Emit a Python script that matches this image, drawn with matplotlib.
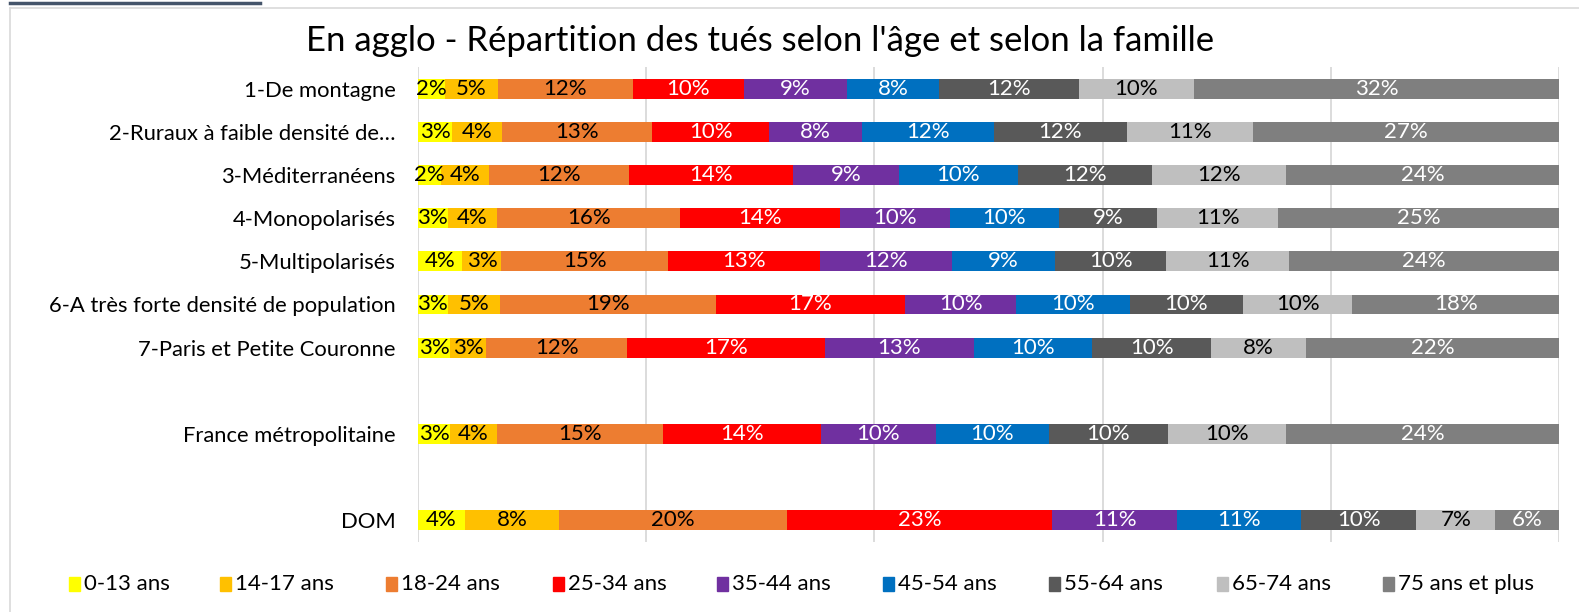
import matplotlib
matplotlib.use("Agg")
import matplotlib.pyplot as plt
from matplotlib.patches import Rectangle
from matplotlib.lines import Line2D

plt.rcParams['font.family'] = ['Lato', 'DejaVu Sans']

# Categories (families of territories)
categories = ["1-De montagne", "2-Ruraux à faible densité de…", "3-Méditerranéens",
              "4-Monopolarisés", "5-Multipolarisés", "6-A très forte densité de population",
              "7-Paris et Petite Couronne", "France métropolitaine", "DOM"]

# Share of road deaths by age group (%), one value per category
age_0_13 = [2.4, 3.0, 2.05, 2.6, 3.9, 2.6, 2.8, 2.8, 4.1]
age_14_17 = [4.6, 4.4, 4.2, 4.3, 3.4, 4.6, 3.2, 4.1, 8.3]
age_18_24 = [11.8, 13.1, 12.2, 16.1, 14.6, 18.9, 12.3, 14.6, 19.9]
age_25_34 = [9.8, 10.3, 14.4, 14.0, 13.3, 16.6, 17.4, 13.8, 23.3]
age_35_44 = [9.0, 8.1, 9.3, 9.6, 11.6, 9.7, 13.0, 10.1, 10.9]
age_45_54 = [8.1, 11.6, 10.4, 9.6, 9.0, 10.0, 10.4, 9.9, 10.9]
age_55_64 = [12.2, 11.6, 11.8, 8.6, 9.8, 9.9, 10.4, 10.4, 10.1]
age_65_74 = [10.1, 11.1, 11.7, 10.6, 10.7, 9.6, 8.3, 10.4, 6.9]
age_75_plus = [32.0, 26.8, 23.95, 24.6, 23.7, 18.1, 22.2, 23.9, 5.6]

series_names = ["0-13 ans", "14-17 ans", "18-24 ans", "25-34 ans", "35-44 ans",
                "45-54 ans", "55-64 ans", "65-74 ans", "75 ans et plus"]
series_values = [age_0_13, age_14_17, age_18_24, age_25_34, age_35_44,
                 age_45_54, age_55_64, age_65_74, age_75_plus]

colors = ["#FFFF00", "#FFC000", "#ED7D31", "#FF0000", "#7030A0",
          "#0070C0", "#595959", "#BFBFBF", "#7F7F7F"]
label_colors = ["black", "black", "black", "white", "white",
                "white", "white", "black", "white"]

# Row slots (an empty slot separates the national aggregates)
slots = [0, 1, 2, 3, 4, 5, 6, 8, 10]

W, H = 1579, 612
fig = plt.figure(figsize=(W / 100, H / 100), dpi=100)
ax = fig.add_axes([418 / W, 1 - 542 / H, (1559 - 418) / W, (542 - 67) / H])

left = [0.0] * len(categories)
for name, vals, c, lc in zip(series_names, series_values, colors, label_colors):
    bars = ax.barh(slots, vals, left=left, height=0.46, color=c, label=name,
                   edgecolor="none", zorder=3)
    ax.bar_label(bars, labels=[f"{v:.0f}%" for v in vals], label_type="center",
                 color=lc, fontsize=16, zorder=4)
    left = [a + b for a, b in zip(left, vals)]

ax.set_xlim(0, 100)
ax.set_ylim(10.5, -0.5)
ax.set_xticks([0, 20, 40, 60, 80, 100])
ax.set_xticklabels([])
ax.tick_params(axis="x", length=0)
ax.grid(axis="x", color="#D9D9D9", linewidth=1.3, zorder=0)
ax.set_yticks(slots)
ax.set_yticklabels(categories, fontsize=15.8)
ax.tick_params(axis="y", length=0, pad=16)
for s in ax.spines.values():
    s.set_visible(False)

fig.text(760 / W, 1 - 41 / H,
         "En agglo - Répartition des tués selon l'âge et selon la famille",
         ha="center", va="center", fontsize=25)

# Legend row
leg_x = [68.5, 219.5, 385.6, 552.8, 717, 883, 1049, 1216.5, 1382.6]
leg_y = 584
for x, name, c in zip(leg_x, series_names, colors):
    fig.patches.append(Rectangle((x / W, 1 - (leg_y + 7) / H), 11 / W, 14 / H,
                                 transform=fig.transFigure, color=c))
    fig.text((x + 15) / W, 1 - leg_y / H, name, ha="left", va="center", fontsize=16)

# Chart frame and document underline
fig.add_artist(Line2D([10 / W, 10 / W], [0, 1 - 8 / H], color="#D9D9D9", lw=1.2))
fig.add_artist(Line2D([10 / W, 1], [1 - 8 / H, 1 - 8 / H], color="#D9D9D9", lw=1.2))
fig.add_artist(Line2D([10 / W, 260 / W], [1 - 3 / H, 1 - 3 / H], color="#44546A", lw=2.5))

fig.savefig("out.png", dpi=100)
